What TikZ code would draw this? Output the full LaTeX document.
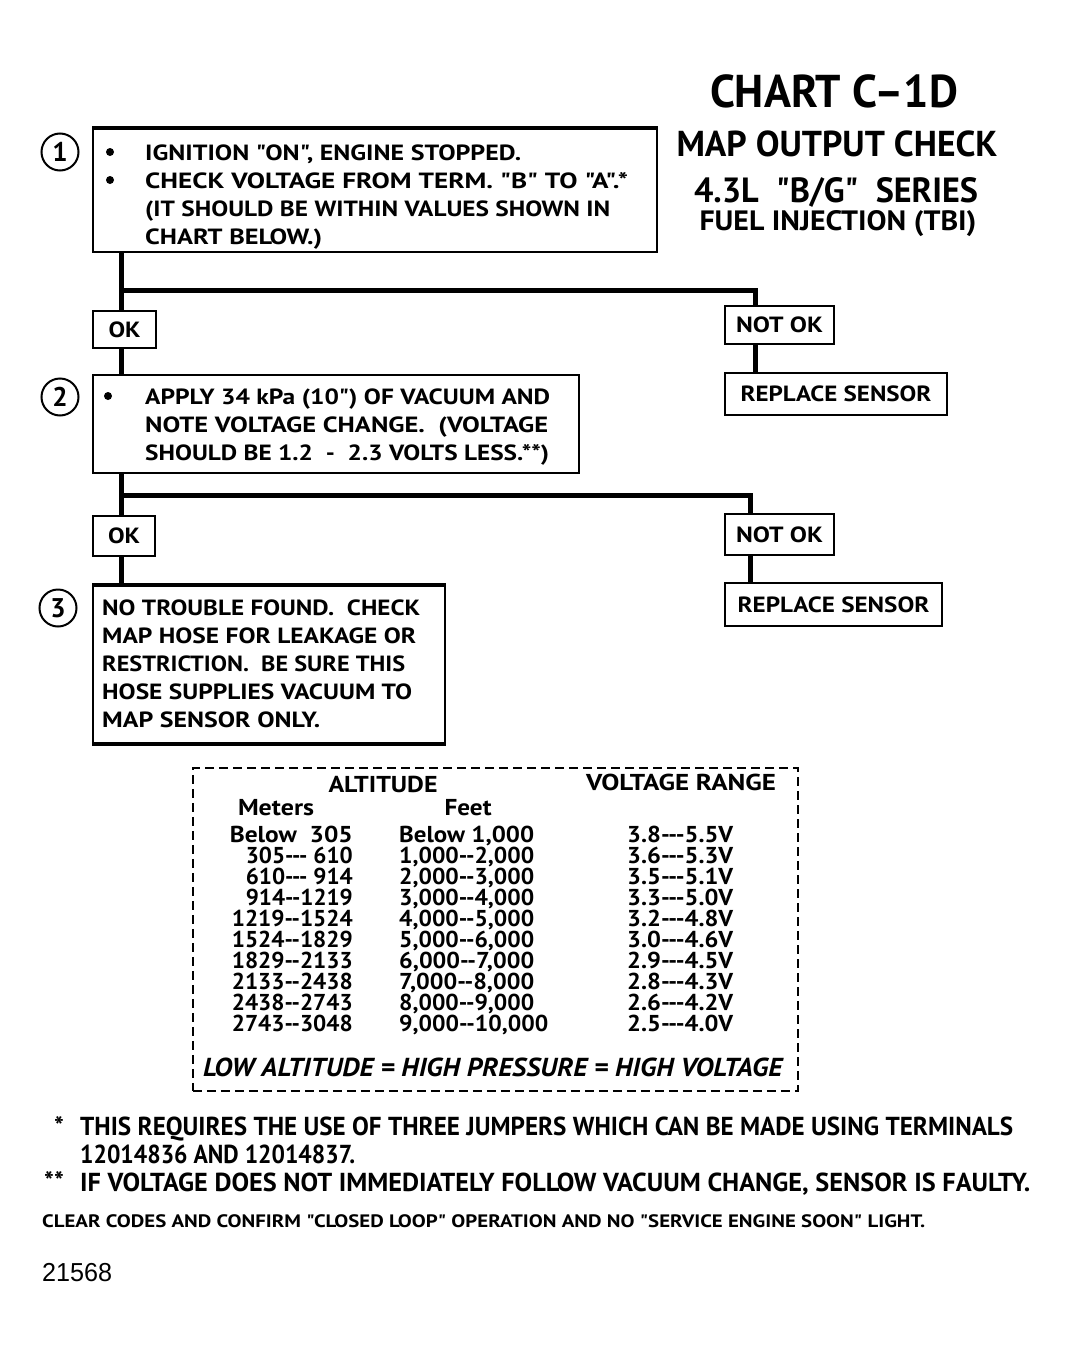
\documentclass[tikz,border=0pt]{standalone}
\usepackage{fontspec}
\usepackage{graphicx}
\setmainfont{PT Sans}[Ligatures=TeXOff]
\newfontfamily\numfont{Liberation Sans}
\newlength\fitlen
\newcommand\fitw[2]{\settowidth\fitlen{#2}\pgfmathsetmacro\fitfac{#1/\fitlen}\scalebox{\fitfac}[1]{#2}}
\tikzset{
  box/.style={draw, line width=2pt, anchor=north west, inner sep=0pt},
  txt/.style={anchor=base west, inner sep=0pt, font=\fontsize{22}{26}\selectfont\bfseries},
  ctxt/.style={anchor=base, inner sep=0pt},
  conn/.style={line width=5pt},
  numc/.style={circle, draw, line width=2pt, minimum size=37pt, inner sep=0pt, font=\fontsize{27}{27}\selectfont\bfseries},
  tab/.style={inner sep=0pt, font=\fontsize{23}{23}\selectfont\bfseries},
  foot/.style={anchor=base west, inner sep=0pt, font=\fontsize{26}{26}\selectfont\bfseries}
}
\begin{document}
\begin{tikzpicture}[x=1pt, y=-1pt]
\useasboundingbox (0,0) rectangle (1067,1354);
\fill[white] (0,0) rectangle (1067,1354);

% Title
\node[ctxt, font=\fontsize{46}{46}\selectfont\bfseries] (t1) at (834,107) {\fitw{248}{CHART C–1D}};
\node[ctxt, font=\fontsize{36}{36}\selectfont\bfseries] (t2) at (837,156) {\fitw{321}{MAP OUTPUT CHECK}};
\node[ctxt, font=\fontsize{35}{35}\selectfont\bfseries] (t3) at (836,202) {\fitw{284}{4.3L\ \ "B/G"\ \ SERIES}};
\node[ctxt, font=\fontsize{28}{28}\selectfont\bfseries] (t4) at (838,230) {\fitw{277}{FUEL INJECTION (TBI)}};

% Boxes
\node[box, minimum width=564pt, minimum height=123pt] (b1) at (92,128) {};
\node[box, minimum width=486pt, minimum height=98pt] (b2) at (92,374) {};
\node[box, minimum width=352pt, minimum height=157pt] (b3) at (92,585) {};
\draw[line width=4pt] (b1.north west) -- (b1.north east);
\draw[line width=4pt] (b3.north west) -- (b3.north east);
\draw[line width=3pt] (b3.south west) -- (b3.south east);

\node[box, minimum width=63pt, minimum height=37pt, font=\fontsize{22}{22}\selectfont\bfseries] (ok1) at (92,310) {\fitw{32}{OK}};
\node[box, minimum width=109pt, minimum height=38pt, font=\fontsize{22}{22}\selectfont\bfseries] (nok1) at (724,305) {\fitw{87}{NOT OK}};
\node[box, minimum width=222pt, minimum height=42pt, font=\fontsize{22}{22}\selectfont\bfseries] (rs1) at (724,372) {\fitw{191}{REPLACE SENSOR}};
\node[box, minimum width=62pt, minimum height=40pt, font=\fontsize{22}{22}\selectfont\bfseries] (ok2) at (92,515) {\fitw{32}{OK}};
\node[box, minimum width=109pt, minimum height=41pt, font=\fontsize{22}{22}\selectfont\bfseries] (nok2) at (724,513) {\fitw{87}{NOT OK}};
\node[box, minimum width=217pt, minimum height=43pt, font=\fontsize{22}{22}\selectfont\bfseries] (rs2) at (724,582) {\fitw{192}{REPLACE SENSOR}};

% Connectors
\coordinate (j1) at (121,290);
\coordinate (k1) at (755,290);
\coordinate (j2) at (121,495);
\coordinate (k2) at (750,495);
\draw[conn] (b1.south -| j1) -- (ok1.north -| j1);
\draw[conn] (j1) -- (k1) -- (nok1.north -| k1);
\draw[conn] (nok1.south -| k1) -- (rs1.north -| k1);
\draw[conn] (ok1.south -| j1) -- (b2.north -| j1);
\draw[conn] (b2.south -| j2) -- (ok2.north -| j2);
\draw[conn] (j2) -- (k2) -- (nok2.north -| k2);
\draw[conn] (nok2.south -| k2) -- (rs2.north -| k2);
\draw[conn] (ok2.south -| j2) -- (b3.north -| j2);

% Step numbers
\node[numc] (c1) at (60,152) {1};
\node[numc] (c2) at (60,397) {2};
\node[numc] (c3) at (58,608) {3};

% Box 1 text
\fill (110,152) circle (4);
\fill (110,180) circle (4);
\node[txt] (l11) at (145,160.5) {\fitw{376}{IGNITION "ON", ENGINE STOPPED.}};
\node[txt] (l12) at (145,188.5) {\fitw{483}{CHECK VOLTAGE FROM TERM. "B" TO "A".*}};
\node[txt] (l13) at (145,216.5) {\fitw{465}{(IT SHOULD BE WITHIN VALUES SHOWN IN}};
\node[txt] (l14) at (145,244.5) {\fitw{177}{CHART BELOW.)}};

% Box 2 text
\fill (108,396) circle (4);
\node[txt] (l21) at (145,404.5) {\fitw{405}{APPLY 34 kPa (10") OF VACUUM AND}};
\node[txt] (l22) at (145,432.5) {\fitw{403}{NOTE VOLTAGE CHANGE.\ \ (VOLTAGE}};
\node[txt] (l23) at (145,460.5) {\fitw{404}{SHOULD BE 1.2\ \ -\ \ 2.3 VOLTS LESS.**)}};

% Box 3 text
\node[txt] (l31) at (102,615.5) {\fitw{318}{NO TROUBLE FOUND.\ \ CHECK}};
\node[txt] (l32) at (102,643.5) {\fitw{314}{MAP HOSE FOR LEAKAGE OR}};
\node[txt] (l33) at (102,671.5) {\fitw{303}{RESTRICTION.\ \ BE SURE THIS}};
\node[txt] (l34) at (102,699.5) {\fitw{310}{HOSE SUPPLIES VACUUM TO}};
\node[txt] (l35) at (102,727.5) {\fitw{218}{MAP SENSOR ONLY.}};

% Table
\node[draw, dash pattern=on 9pt off 5pt, line width=1.5pt, anchor=north west, minimum width=605pt, minimum height=323pt, inner sep=0pt] (tb) at (192,767) {};
\node[tab, anchor=base] (h1) at (383,792) {\fitw{109}{ALTITUDE}};
\node[tab, anchor=base] (h2) at (681,790) {\fitw{190}{VOLTAGE RANGE}};
\node[tab, anchor=base] (h3) at (276,815) {\fitw{76}{Meters}};
\node[tab, anchor=base] (h4) at (468,815) {\fitw{47}{Feet}};

\foreach \i/\m/\mw/\f/\fw/\v in {
 0/{Below\ \ 305}/123/{Below 1,000}/135/{3.8---5.5V},
 1/{305--- 610}/107/{1,000--2,000}/135/{3.6---5.3V},
 2/{610--- 914}/107/{2,000--3,000}/135/{3.5---5.1V},
 3/{914--1219}/107/{3,000--4,000}/135/{3.3---5.0V},
 4/{1219--1524}/121/{4,000--5,000}/135/{3.2---4.8V},
 5/{1524--1829}/121/{5,000--6,000}/135/{3.0---4.6V},
 6/{1829--2133}/121/{6,000--7,000}/135/{2.9---4.5V},
 7/{2133--2438}/121/{7,000--8,000}/135/{2.8---4.3V},
 8/{2438--2743}/121/{8,000--9,000}/135/{2.6---4.2V},
 9/{2743--3048}/121/{9,000--10,000}/149/{2.5---4.0V}}{
  \pgfmathsetmacro\yy{842+21.1*\i}
  \node[tab, anchor=base east] (m\i) at (353,\yy) {\fitw{\mw}{\m}};
  \node[tab, anchor=base west] (f\i) at (399,\yy) {\fitw{\fw}{\f}};
  \node[tab, anchor=base west] (v\i) at (627,\yy) {\fitw{106}{\v}};
}
\node[anchor=base west, inner sep=0pt, font=\fontsize{26}{26}\selectfont\bfseries\itshape] (low) at (203,1076) {\fitw{579}{LOW ALTITUDE\ = HIGH PRESSURE\ = HIGH VOLTAGE}};

% Footnotes
\node[foot, anchor=base] (s1) at (59,1135) {*};
\node[foot] (n1) at (80,1135) {\fitw{933}{THIS REQUIRES THE USE OF THREE JUMPERS WHICH CAN BE MADE USING TERMINALS}};
\node[foot] (n2) at (80,1163) {\fitw{275}{12014836 AND 12014837.}};
\node[foot, anchor=base] (s2) at (54,1190) {**};
\node[foot] (n3) at (80,1191) {\fitw{950}{IF VOLTAGE DOES NOT IMMEDIATELY FOLLOW VACUUM CHANGE, SENSOR IS FAULTY.}};
\node[foot, font=\fontsize{18}{18}\selectfont\bfseries] (n4) at (42,1227) {\fitw{883}{CLEAR CODES AND CONFIRM "CLOSED LOOP" OPERATION AND NO "SERVICE ENGINE SOON" LIGHT.}};
\node[anchor=base west, inner sep=0pt, font=\fontsize{26}{26}\selectfont\numfont] (id) at (42,1281) {\fitw{70}{21568}};
\end{tikzpicture}
\end{document}
